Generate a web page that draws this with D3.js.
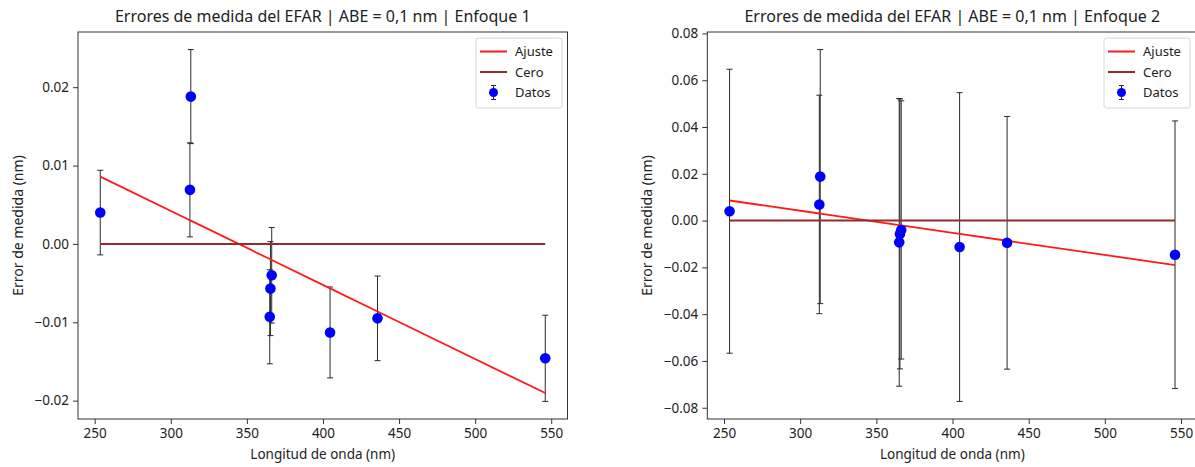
<!DOCTYPE html>
<html>
<head>
<meta charset="utf-8">
<script src="https://cdn.jsdelivr.net/npm/d3@7"></script>
<style>
  html, body { margin: 0; padding: 0; background: #fff; }
  svg { display: block; font-family: "Noto Sans", "DejaVu Sans", sans-serif; }
</style>
</head>
<body>
<svg id="chart" width="1195" height="467"></svg>
<script>
// Mercury spectral lines (nm) and the measured error at each one (nm)
const wavelengths = [253.65, 312.57, 313.16, 365.02, 365.48, 366.33, 404.66, 435.83, 546.07];
const errorValues = [0.0040, 0.0069, 0.0188, -0.0093, -0.0057, -0.0040, -0.0113, -0.0095, -0.0146];
// Uncertainty of each measurement for the two approaches
const sigmaEnfoque1 = [0.0054, 0.0060, 0.0060, 0.0060, 0.0060, 0.0061, 0.0058, 0.0054, 0.0055];
const sigmaEnfoque2 = [0.0607, 0.0467, 0.0543, 0.0615, 0.0577, 0.0552, 0.0660, 0.0540, 0.0572];

const xTicks = [250, 300, 350, 400, 450, 500, 550];
const yTicks1 = [-0.02, -0.01, 0.00, 0.01, 0.02];
const yTicks2 = [-0.08, -0.06, -0.04, -0.02, 0.00, 0.02, 0.04, 0.06, 0.08];

const titles = [
  "Errores de medida del EFAR | ABE = 0,1 nm | Enfoque 1",
  "Errores de medida del EFAR | ABE = 0,1 nm | Enfoque 2"
];
const xLabel = "Longitud de onda (nm)";
const yLabel = "Error de medida (nm)";
const legendLabels = ["Ajuste", "Cero", "Datos"];

const COLORS = { fit: "#ff1a1a", zero: "#962b2b", data: "#0000ff", bar: "#2a2a2a" };

// Ordinary least-squares line through the measurements
function linearFit(xs, ys) {
  const mx = d3.mean(xs), my = d3.mean(ys);
  let sxy = 0, sxx = 0;
  xs.forEach((x, i) => { sxy += (x - mx) * (ys[i] - my); sxx += (x - mx) * (x - mx); });
  const b = sxy / sxx;
  return x => my + b * (x - mx);
}
const fitFn = linearFit(wavelengths, errorValues);
const fitValues = wavelengths.map(fitFn);

function padded(lo, hi) {
  const m = (hi - lo) * 0.05;
  return [lo - m, hi + m];
}

const svg = d3.select("#chart");

function drawPanel(opts) {
  const { left, right, top, bottom, sigma, yTicks, title } = opts;
  const g = svg.append("g");

  const xDom = padded(d3.min(wavelengths), d3.max(wavelengths));
  const lows = errorValues.map((v, i) => v - sigma[i]).concat(fitValues, [0]);
  const highs = errorValues.map((v, i) => v + sigma[i]).concat(fitValues, [0]);
  const yDom = padded(d3.min(lows), d3.max(highs));

  const x = d3.scaleLinear().domain(xDom).range([left, right]);
  const y = d3.scaleLinear().domain(yDom).range([bottom, top]);

  // error bars
  const bars = g.append("g").attr("stroke", COLORS.bar).attr("stroke-width", 1).attr("fill", "none");
  wavelengths.forEach((w, i) => {
    const cx = x(w), y0 = y(errorValues[i] - sigma[i]), y1 = y(errorValues[i] + sigma[i]);
    bars.append("line").attr("x1", cx).attr("x2", cx).attr("y1", y0).attr("y2", y1);
    bars.append("line").attr("x1", cx - 3).attr("x2", cx + 3).attr("y1", y0).attr("y2", y0);
    bars.append("line").attr("x1", cx - 3).attr("x2", cx + 3).attr("y1", y1).attr("y2", y1);
  });

  const line = d3.line().x(d => x(d[0])).y(d => y(d[1]));
  // fitted line
  g.append("path")
    .datum(wavelengths.map((w, i) => [w, fitValues[i]]))
    .attr("d", line).attr("fill", "none")
    .attr("stroke", COLORS.fit).attr("stroke-width", 1.8);
  // zero reference
  g.append("path")
    .datum(wavelengths.map(w => [w, 0]))
    .attr("d", line).attr("fill", "none")
    .attr("stroke", COLORS.zero).attr("stroke-width", 2);

  // data points
  g.append("g").selectAll("circle")
    .data(wavelengths)
    .join("circle")
    .attr("cx", d => x(d))
    .attr("cy", (d, i) => y(errorValues[i]))
    .attr("r", 5.3)
    .attr("fill", COLORS.data);

  // axes
  const fmt = d3.format(".2f");
  const xAxis = g.append("g").attr("transform", `translate(0,${bottom})`)
    .call(d3.axisBottom(x).tickValues(xTicks).tickSize(5).tickPadding(4).tickFormat(d3.format("d")));
  const yAxis = g.append("g").attr("transform", `translate(${left},0)`)
    .call(d3.axisLeft(y).tickValues(yTicks).tickSize(5).tickPadding(4).tickFormat(fmt));
  [xAxis, yAxis].forEach(a => {
    a.select(".domain").remove();
    a.selectAll("line").attr("stroke", "#333");
    a.selectAll("text").attr("fill", "#222").style("font-size", "13.5px").style("font-family", "'Noto Sans', sans-serif");
  });

  // frame
  g.append("rect")
    .attr("x", left).attr("y", top)
    .attr("width", right - left).attr("height", bottom - top)
    .attr("fill", "none").attr("stroke", "#333").attr("stroke-width", 1);

  // title and labels
  g.append("text")
    .attr("x", (left + right) / 2).attr("y", top - 10)
    .attr("text-anchor", "middle").attr("fill", "#222")
    .style("font-size", "16px")
    .text(title);
  g.append("text")
    .attr("x", (left + right) / 2).attr("y", bottom + 40)
    .attr("text-anchor", "middle").attr("fill", "#222")
    .style("font-size", "13.5px")
    .text(xLabel);
  g.append("text")
    .attr("transform", `translate(${left - 55},${(top + bottom) / 2}) rotate(-90)`)
    .attr("text-anchor", "middle").attr("fill", "#222")
    .style("font-size", "14px")
    .text(yLabel);

  // legend in the upper right corner
  const lw = 86, lh = 70;
  const lx = opts.legendRight - lw, ly = top + 6;
  const lg = g.append("g").attr("transform", `translate(${lx},${ly})`);
  lg.append("rect").attr("width", lw).attr("height", lh).attr("rx", 2.5)
    .attr("fill", "#fff").attr("fill-opacity", 0.85)
    .attr("stroke", "#d6d6d6").attr("stroke-width", 1);
  const rowY = [13.5, 34, 54.5];
  lg.append("line").attr("x1", 4).attr("x2", 31).attr("y1", rowY[0]).attr("y2", rowY[0])
    .attr("stroke", COLORS.fit).attr("stroke-width", 2);
  lg.append("line").attr("x1", 4).attr("x2", 31).attr("y1", rowY[1]).attr("y2", rowY[1])
    .attr("stroke", COLORS.zero).attr("stroke-width", 2);
  const sx = 17.5;
  lg.append("line").attr("x1", sx).attr("x2", sx).attr("y1", rowY[2] - 7).attr("y2", rowY[2] + 7)
    .attr("stroke", COLORS.bar);
  lg.append("line").attr("x1", sx - 2.5).attr("x2", sx + 2.5).attr("y1", rowY[2] - 7).attr("y2", rowY[2] - 7)
    .attr("stroke", COLORS.bar);
  lg.append("line").attr("x1", sx - 2.5).attr("x2", sx + 2.5).attr("y1", rowY[2] + 7).attr("y2", rowY[2] + 7)
    .attr("stroke", COLORS.bar);
  lg.append("circle").attr("cx", sx).attr("cy", rowY[2]).attr("r", 4.5).attr("fill", COLORS.data);
  lg.selectAll("text.lbl").data(legendLabels).join("text")
    .attr("class", "lbl")
    .attr("x", 39).attr("y", (d, i) => rowY[i] + 4.5)
    .attr("fill", "#222").style("font-size", "13px")
    .text(d => d);
}

drawPanel({ left: 78, right: 567.5, top: 32, bottom: 419, sigma: sigmaEnfoque1, yTicks: yTicks1,
  title: titles[0], legendRight: 562 });
drawPanel({ left: 707.3, right: 1197.3, top: 32, bottom: 419, sigma: sigmaEnfoque2, yTicks: yTicks2,
  title: titles[1], legendRight: 1190 });
</script>
</body>
</html>
